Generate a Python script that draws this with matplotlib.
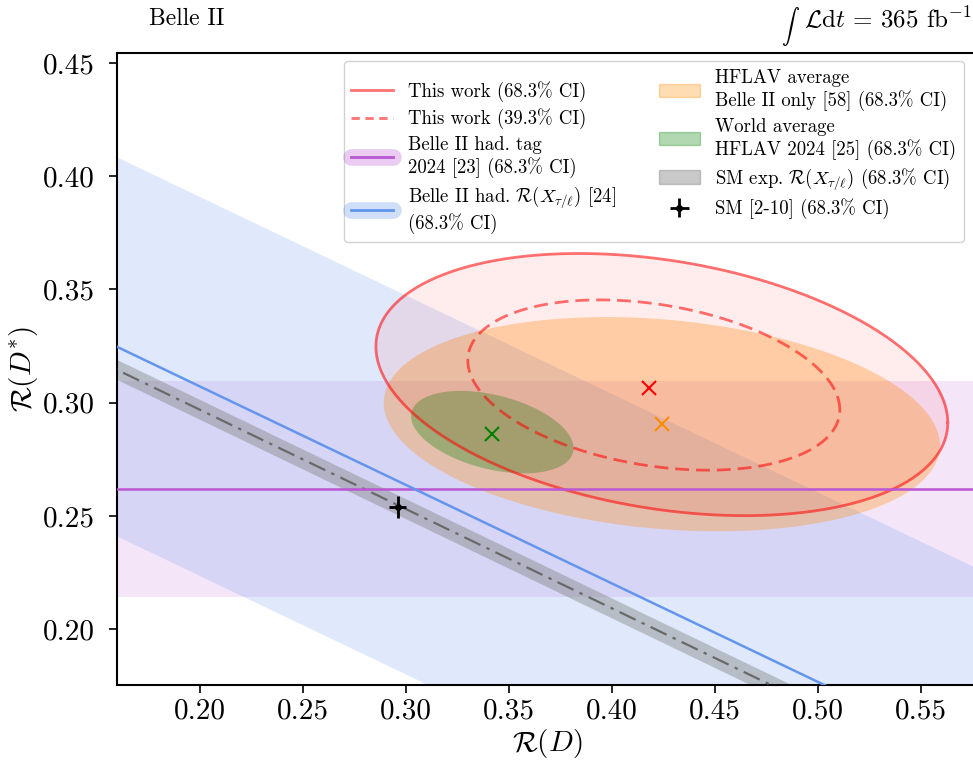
import numpy as np
import matplotlib
matplotlib.use("Agg")
import matplotlib.pyplot as plt
from matplotlib.lines import Line2D
from matplotlib.patches import Patch

plt.rcParams['font.family'] = 'serif'
plt.rcParams['font.serif'] = ['cmr10', 'DejaVu Serif']
plt.rcParams['mathtext.fontset'] = 'cm'
plt.rcParams['axes.formatter.use_mathtext'] = True

# ellipses: centre x, centre y, half extent in x, half extent in y, correlation
this_work_68 = [0.4243, 0.3080, 0.1388, 0.0579, -0.29]
this_work_39 = [0.4204, 0.3078, 0.0903, 0.0376, -0.29]
hflav_b2 = [0.4243, 0.2905, 0.1350, 0.0473, -0.20]
world_avg = [0.342, 0.287, 0.026 * 1.517, 0.012 * 1.517, -0.39]

# best fit points
this_work_pt = (0.418, 0.3064)
hflav_b2_pt = (0.4243, 0.2905)
world_pt = (0.3417, 0.2861)

# SM prediction
sm_rd, sm_rd_err = 0.296, 0.004
sm_rds, sm_rds_err = 0.254, 0.005

# Belle II had. tag 2024, R(D*) only
had_tag_val, had_tag_err = 0.262, 0.0477

# straight bands R(D*) = c - s * R(D)
rx_c, rx_s, rx_err = 0.3942, 0.435, 0.0837
sm_rx_c, sm_rx_s, sm_rx_err = 0.3846, 0.4385, 0.0044


def ellipse(cx, cy, a, b, rho, n=300):
    t = np.linspace(0, 2 * np.pi, n)
    x = cx + a * np.cos(t)
    y = cy + b * (rho * np.cos(t) + np.sqrt(1 - rho ** 2) * np.sin(t))
    return x, y


fig = plt.figure(figsize=(9.73, 7.66), dpi=100)
ax = fig.add_axes([0.12, 0.1057, 0.8856, 0.825])
ax.set_xlim(0.1597, 0.578)
ax.set_ylim(0.1753, 0.4544)

xs = np.array([0.1, 0.7])

# purple horizontal band
ax.axhspan(had_tag_val - had_tag_err, had_tag_val + had_tag_err,
           color='mediumorchid', alpha=0.15, lw=0, zorder=1)
ax.axhline(had_tag_val, color='mediumorchid', lw=1.8, zorder=6)

# blue R(X) band
ax.fill_between(xs, rx_c - rx_s * xs - rx_err, rx_c - rx_s * xs + rx_err,
                color='cornflowerblue', alpha=0.2, lw=0, zorder=1)
ax.plot(xs, rx_c - rx_s * xs, color='cornflowerblue', lw=1.8, zorder=6)

# SM R(X) band
ax.fill_between(xs, sm_rx_c - sm_rx_s * xs - sm_rx_err, sm_rx_c - sm_rx_s * xs + sm_rx_err,
                color='gray', alpha=0.42, lw=0, zorder=2)
ax.plot(xs, sm_rx_c - sm_rx_s * xs, color='dimgray', lw=1.6, ls=(0, (8, 3, 1.5, 3)), zorder=3)

# HFLAV Belle II only
ex, ey = ellipse(*hflav_b2)
ax.fill(ex, ey, color='darkorange', alpha=0.3, lw=0, zorder=3)

# world average
ex, ey = ellipse(*world_avg)
ax.fill(ex, ey, color='green', alpha=0.3, lw=0, zorder=4)

# this work
ex, ey = ellipse(*this_work_68)
ax.fill(ex, ey, color='red', alpha=0.07, lw=0, zorder=4)
ax.plot(ex, ey, color='red', alpha=0.55, lw=2, zorder=5)
ex, ey = ellipse(*this_work_39)
ax.plot(ex, ey, color='red', alpha=0.55, lw=2, ls=(0, (5, 2.5)), zorder=5)

ax.plot(*this_work_pt, marker='x', color='red', ms=10, mew=1.5, ls='none', zorder=7)
ax.plot(*hflav_b2_pt, marker='x', color='darkorange', ms=10, mew=1.5, ls='none', zorder=7)
ax.plot(*world_pt, marker='x', color='green', ms=10, mew=1.5, ls='none', zorder=7)

sm = ax.errorbar(sm_rd, sm_rds, xerr=sm_rd_err, yerr=sm_rds_err, fmt='o', color='black',
                 ms=4, elinewidth=2, capsize=0, zorder=8)

ax.set_xticks([0.20, 0.25, 0.30, 0.35, 0.40, 0.45, 0.50, 0.55])
ax.set_yticks([0.20, 0.25, 0.30, 0.35, 0.40, 0.45])
ax.xaxis.set_major_formatter(matplotlib.ticker.FormatStrFormatter('%.2f'))
ax.yaxis.set_major_formatter(matplotlib.ticker.FormatStrFormatter('%.2f'))
ax.tick_params(labelsize=21, length=6, width=1.2, direction='out')
ax.tick_params(axis='y', pad=10)
for s in ax.spines.values():
    s.set_linewidth(1.5)

ax.set_xlabel(r'$\mathcal{R}(D)$', fontsize=21, labelpad=2)
ax.set_ylabel(r'$\mathcal{R}(D^{*})$', fontsize=21, labelpad=2)

fig.text(0.153, 0.99, 'Belle II', fontsize=17, va='top', ha='left')
lumi = fig.text(0.999, 0.963, r'$\mathcal{L}\mathrm{d}t$ = 365 fb$^{-1}$',
                fontsize=18, va='baseline', ha='right')
fig.canvas.draw()
bb = lumi.get_window_extent().transformed(fig.transFigure.inverted())
fig.text(bb.x0 - 0.005, 0.957, r'$\int$', fontsize=13, va='baseline', ha='right')

h1 = Line2D([], [], color='red', alpha=0.55, lw=2)
h2 = Line2D([], [], color='red', alpha=0.55, lw=2, ls=(0, (3, 2)))
h3 = (Line2D([], [], color='mediumorchid', alpha=0.3, lw=12, solid_capstyle='round'),
      Line2D([], [], color='mediumorchid', lw=2))
h4 = (Line2D([], [], color='cornflowerblue', alpha=0.3, lw=12, solid_capstyle='round'),
      Line2D([], [], color='cornflowerblue', lw=2))
h5 = Patch(facecolor='darkorange', alpha=0.3, edgecolor='darkorange')
h6 = Patch(facecolor='green', alpha=0.3, edgecolor='green')
h7 = Patch(facecolor='gray', alpha=0.42, edgecolor='gray')
handles = [h1, h2, h3, h4, h5, h6, h7, sm]
labels = ['This work (68.3% CI)',
          'This work (39.3% CI)',
          'Belle II had. tag\n2024 [23] (68.3% CI)',
          'Belle II had. $\\mathcal{R}(X_{\\tau/\\ell})$ [24]\n(68.3% CI)',
          'HFLAV average\nBelle II only [58] (68.3% CI)',
          'World average\nHFLAV 2024 [25] (68.3% CI)',
          'SM exp. $\\mathcal{R}(X_{\\tau/\\ell})$ (68.3% CI)',
          'SM [2-10] (68.3% CI)']
fig.legend(handles, labels, ncol=2, fontsize=13.5, loc='upper right',
           bbox_to_anchor=(1.0, 0.932), framealpha=0.9, handlelength=2.2,
           handletextpad=0.8, labelspacing=0.35, columnspacing=2.3)

fig.savefig('out.png', dpi=100)
